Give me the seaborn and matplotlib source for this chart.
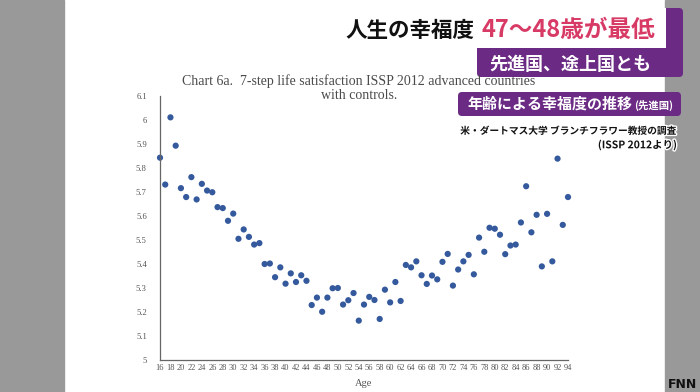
import numpy as np
import pandas as pd
import matplotlib.pyplot as plt
import seaborn as sns
from matplotlib.patches import Rectangle, FancyBboxPatch
import matplotlib.patheffects as pe

# Ages and life satisfaction values
ages = [16, 17, 18, 19, 20, 21, 22, 23, 24, 25, 26, 27, 28, 29, 30,
        31, 32, 33, 34, 35, 36, 37, 38, 39, 40, 41, 42, 43, 44, 45,
        46, 47, 48, 49, 50, 51, 52, 53, 54, 55, 56, 57, 58, 59, 60,
        61, 62, 63, 64, 65, 66, 67, 68, 69, 70, 71, 72, 73, 74, 75,
        76, 77, 78, 79, 80, 81, 82, 83, 84, 85, 86, 87, 88, 89, 90,
        91, 92, 93, 94]
satisfaction = [5.843, 5.731, 6.011, 5.893, 5.716, 5.679, 5.762, 5.669, 5.734, 5.706,
                5.699, 5.637, 5.633, 5.580, 5.610, 5.505, 5.544, 5.513, 5.481, 5.487,
                5.400, 5.402, 5.345, 5.386, 5.318, 5.361, 5.325, 5.353, 5.330, 5.229,
                5.260, 5.201, 5.260, 5.299, 5.300, 5.231, 5.249, 5.279, 5.164, 5.231,
                5.263, 5.250, 5.171, 5.293, 5.240, 5.325, 5.246, 5.396, 5.386, 5.411,
                5.353, 5.317, 5.352, 5.336, 5.409, 5.442, 5.310, 5.377, 5.411, 5.438,
                5.357, 5.510, 5.451, 5.551, 5.547, 5.522, 5.441, 5.477, 5.481, 5.573,
                5.724, 5.532, 5.605, 5.390, 5.609, 5.411, 5.839, 5.563, 5.679]

x_ticks = list(range(16, 95, 2))
y_ticks = [5.0, 5.1, 5.2, 5.3, 5.4, 5.5, 5.6, 5.7, 5.8, 5.9, 6.0, 6.1]

chart_title = "Chart 6a.  7-step life satisfaction ISSP 2012 advanced countries\nwith controls."
headline_black = "人生の幸福度"
headline_red = "47〜48歳が最低"
sub1 = "先進国、途上国とも"
sub2 = "年齢による幸福度の推移"
sub2_small = "(先進国)"
source1 = "米・ダートマス大学 ブランチフラワー教授の調査"
source2 = "(ISSP 2012より)"

df = pd.DataFrame({"Age": ages, "Satisfaction": satisfaction})

sns.set_style("white")
plt.rcParams["font.family"] = ["Liberation Serif", "DejaVu Serif"]
jp = ["Noto Sans CJK JP", "DejaVu Sans"]

fig = plt.figure(figsize=(7, 3.92), dpi=100)
fig.patch.set_facecolor("white")

# background of the TV frame (gray side strips)
bg = fig.add_axes([0, 0, 1, 1], zorder=0)
bg.set_xlim(0, 700)
bg.set_ylim(392, 0)
bg.axis("off")
bg.add_patch(Rectangle((0, 0), 64, 392, color="#999999"))
bg.add_patch(Rectangle((665, 0), 35, 392, color="#999999"))

# the chart itself
ax = fig.add_axes([160 / 700, 1 - 360 / 392, 408 / 700, 264 / 392], zorder=1)
ax.patch.set_alpha(0)
sns.scatterplot(data=df, x="Age", y="Satisfaction", ax=ax, color="#34599c",
                s=20, edgecolor="none", clip_on=False)
ax.set_xlim(16, 94)
ax.set_ylim(5, 6.1)
ax.set_xticks(x_ticks)
ax.set_xticklabels([str(t) for t in x_ticks], fontsize=6, color="#555555")
ax.set_yticks(y_ticks)
ax.set_yticklabels([f"{t:g}" for t in y_ticks], fontsize=6.2, color="#555555")
ax.tick_params(axis="x", direction="in", length=2.5, width=0.8, color="#666666", pad=3)
ax.tick_params(axis="y", direction="out", length=2.5, width=0.8, color="#666666", pad=7)
for side in ["top", "right"]:
    ax.spines[side].set_visible(False)
for side in ["left", "bottom"]:
    ax.spines[side].set_color("#666666")
    ax.spines[side].set_linewidth(0.9)
ax.set_xlabel("Age", fontsize=7.5, color="#555555", labelpad=5)
ax.set_ylabel("")

# TV overlays on top
top = fig.add_axes([0, 0, 1, 1], zorder=3)
top.set_xlim(0, 700)
top.set_ylim(392, 0)
top.axis("off")
top.patch.set_alpha(0)

top.text(359, 88, chart_title, ha="center", va="center", fontsize=10,
         color="#4a4a4a", linespacing=1.15, family=["Liberation Serif"])

purple = "#6b2a84"
top.add_patch(FancyBboxPatch((477, 8), 206, 69, boxstyle="round,pad=0,rounding_size=4",
                             facecolor=purple, edgecolor="none"))
top.add_patch(Rectangle((320, 8), 346, 40, facecolor="white", edgecolor="none"))
top.text(474, 30, headline_black, ha="right", va="center", fontsize=15.5,
         fontweight="bold", color="#111111", family=jp)
top.text(481, 30, headline_red, ha="left", va="center", fontsize=17,
         fontweight="bold", color="#d83a66", family=jp)
top.text(489, 64, sub1, ha="left", va="center", fontsize=13,
         fontweight="bold", color="white", family=jp)

top.add_patch(FancyBboxPatch((458, 92), 223, 24, boxstyle="round,pad=0,rounding_size=4",
                             facecolor=purple, edgecolor="none"))
top.text(467, 104, sub2, ha="left", va="center", fontsize=10.8,
         fontweight="bold", color="white", family=jp)
top.text(673, 105, sub2_small, ha="right", va="center", fontsize=7.5,
         fontweight="bold", color="white", family=jp)

outline = [pe.withStroke(linewidth=2, foreground="white")]
top.text(677, 131, source1, ha="right", va="center", fontsize=7,
         fontweight="bold", color="#111111", family=jp, path_effects=outline)
top.text(677, 145, source2, ha="right", va="center", fontsize=7.5,
         fontweight="bold", color="#111111", family=jp, path_effects=outline)

top.text(668, 391, "FNN", ha="left", va="bottom", fontsize=9, fontweight="bold",
         color="#111111", family=["DejaVu Sans"])

fig.savefig("out.png", dpi=100)
